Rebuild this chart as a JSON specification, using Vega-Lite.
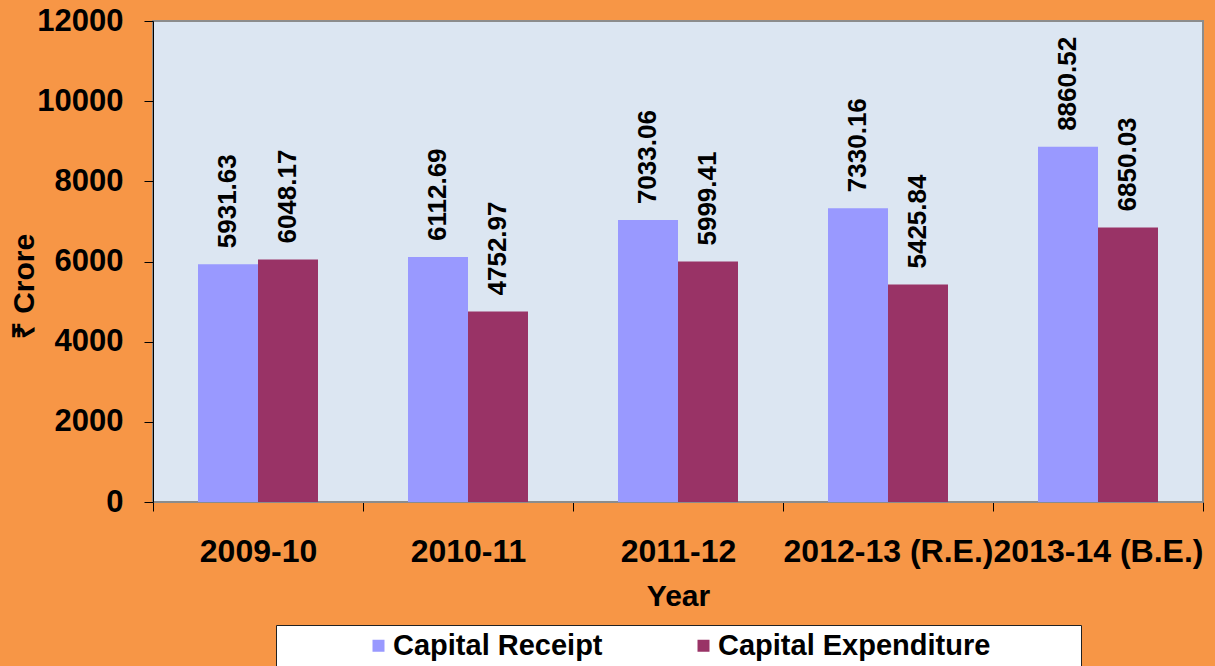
{
  "$schema": "https://vega.github.io/schema/vega-lite/v6.json",
  "width": 1050,
  "height": 481,
  "autosize": {"type": "none"},
  "padding": {"left": 153, "top": 21, "right": 12, "bottom": 164},
  "background": "#F79646",
  "config": {
    "font": "Liberation Sans",
    "view": {"fill": "#DCE6F2", "stroke": "#8C8C8C", "strokeWidth": 2},
    "legend": {"layout": {"bottom": {"anchor": "middle"}}}
  },
  "data": {
    "values": [
      {"year": "2009-10", "series": "Capital Receipt", "value": 5931.63},
      {"year": "2009-10", "series": "Capital Expenditure", "value": 6048.17},
      {"year": "2010-11", "series": "Capital Receipt", "value": 6112.69},
      {"year": "2010-11", "series": "Capital Expenditure", "value": 4752.97},
      {"year": "2011-12", "series": "Capital Receipt", "value": 7033.06},
      {"year": "2011-12", "series": "Capital Expenditure", "value": 5999.41},
      {"year": "2012-13 (R.E.)", "series": "Capital Receipt", "value": 7330.16},
      {"year": "2012-13 (R.E.)", "series": "Capital Expenditure", "value": 5425.84},
      {"year": "2013-14 (B.E.)", "series": "Capital Receipt", "value": 8860.52},
      {"year": "2013-14 (B.E.)", "series": "Capital Expenditure", "value": 6850.03}
    ]
  },
  "encoding": {
    "x": {
      "field": "year",
      "type": "nominal",
      "sort": null,
      "scale": {"paddingInner": 0, "paddingOuter": 0},
      "axis": {
        "title": "Year",
        "labelAngle": 0,
        "labelFontSize": 32,
        "labelFontWeight": "bold",
        "labelColor": "#000000",
        "labelPadding": 25,
        "labelLimit": 0,
        "labelOverlap": false,
        "tickBand": "extent",
        "tickSize": 9,
        "tickColor": "#000000",
        "domainColor": "#8C8C8C",
        "domainWidth": 1,
        "grid": false,
        "titleFontSize": 30,
        "titleFontWeight": "bold",
        "titleColor": "#000000",
        "titlePadding": 14
      }
    },
    "xOffset": {
      "field": "series",
      "type": "nominal",
      "sort": ["Capital Receipt", "Capital Expenditure"],
      "scale": {"paddingInner": 0, "paddingOuter": 0.75}
    },
    "y": {
      "field": "value",
      "type": "quantitative",
      "scale": {"domain": [0, 12000], "nice": false},
      "axis": {
        "title": "₹ Crore",
        "values": [0, 2000, 4000, 6000, 8000, 10000, 12000],
        "format": "d",
        "labelFontSize": 31,
        "labelFontWeight": "bold",
        "labelColor": "#000000",
        "labelPadding": 21,
        "tickSize": 9,
        "tickColor": "#000000",
        "domainColor": "#000000",
        "grid": false,
        "titleFontSize": 30,
        "titleFontWeight": "bold",
        "titleColor": "#000000",
        "titleX": -114,
        "titleY": 265,
        "titleAlign": "center",
        "titleBaseline": "bottom",
        "titleAngle": -90
      }
    }
  },
  "layer": [
    {
      "mark": {"type": "bar"},
      "encoding": {
        "color": {
          "field": "series",
          "type": "nominal",
          "scale": {"domain": ["Capital Receipt", "Capital Expenditure"], "range": ["#9999FF", "#993366"]},
          "legend": {
            "title": null,
            "orient": "bottom",
            "direction": "horizontal",
            "fillColor": "#FFFFFF",
            "strokeColor": "#222222",
            "padding": 6,
            "offset": 14,
            "labelFontSize": 29,
            "labelFontWeight": "bold",
            "labelColor": "#000000",
            "labelLimit": 0,
            "labelOffset": 0,
            "symbolType": "square",
            "symbolSize": 144,
            "symbolStrokeWidth": 0,
            "symbolOffset": 82,
            "columnPadding": 4,
            "labelExpr": "datum.value === 'Capital Expenditure' ? 'Capital Expenditure\u2800\u2800\u2800\u2800' : datum.label"
          }
        }
      }
    },
    {
      "mark": {"type": "text", "angle": -90, "align": "left", "baseline": "middle", "dx": 16, "fontSize": 26, "fontWeight": "bold", "color": "#000000"},
      "encoding": {
        "text": {"field": "value", "type": "quantitative", "format": ".2f"}
      }
    }
  ]
}
